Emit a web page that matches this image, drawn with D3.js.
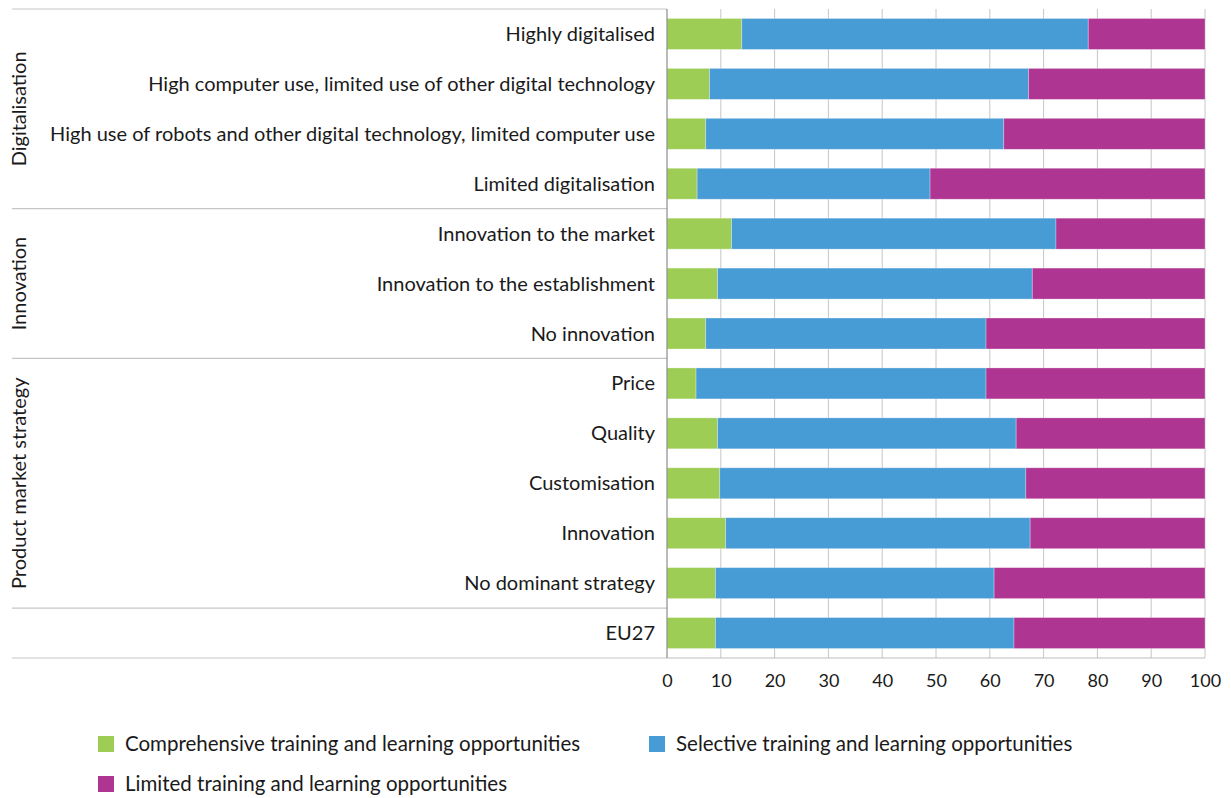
<!DOCTYPE html>
<html><head><meta charset="utf-8">
<script src="https://cdn.jsdelivr.net/npm/d3@7"></script>
<style>
body{margin:0;background:#fff;}
text{font-family:"Source Sans Pro","Lato","Noto Sans",sans-serif;fill:#1a1a1a;}
</style></head>
<body>
<svg id="chart" width="1231" height="798"></svg>
<script>
const categories = ["Highly digitalised","High computer use, limited use of other digital technology","High use of robots and other digital technology, limited computer use","Limited digitalisation","Innovation to the market","Innovation to the establishment","No innovation","Price","Quality","Customisation","Innovation","No dominant strategy","EU27"];
const groupNames = ["Digitalisation","Innovation","Product market strategy",""];
const groupSizes = [4,3,5,1];
const seriesNames = ["Comprehensive training and learning opportunities","Selective training and learning opportunities","Limited training and learning opportunities"];
const comprehensive = [13.9,7.9,7.2,5.6,12.0,9.4,7.2,5.4,9.4,9.8,10.9,9.0,9.0];
const selective     = [64.4,59.3,55.4,43.3,60.3,58.5,52.1,53.9,55.5,56.9,56.6,51.8,55.5];
const limited       = [21.7,32.8,37.4,51.1,27.7,32.1,40.7,40.7,35.1,33.3,32.5,39.2,35.5];
const xTicks = [0,10,20,30,40,50,60,70,80,90,100];
const colors = ["#9dcd55","#489cd6","#ae3592"];

(function(){
const svg = d3.select("#chart");
const L = 667, R = 1205, T = 9, B = 658;
const x = d3.scaleLinear().domain([0,100]).range([L,R]);
const y = d3.scaleBand().domain(categories).range([T,B]).paddingInner(0.38).paddingOuter(0.19);
const yRow = d3.scaleBand().domain(categories).range([T,B]);

// gridlines
svg.append("g").selectAll("line").data(xTicks.slice(1)).join("line")
  .attr("x1",d=>x(d)).attr("x2",d=>x(d)).attr("y1",T).attr("y2",B)
  .attr("stroke","#c6c6c6").attr("stroke-width",1);

// stacked bars
const data = categories.map((c,i)=>({cat:c, v:[comprehensive[i],selective[i],limited[i]]}));
const stack = d3.stack().keys([0,1,2]).value((d,k)=>d.v[k]);
const layers = stack(data);
svg.append("g").selectAll("g").data(layers).join("g")
  .attr("fill",(d,i)=>colors[i])
  .selectAll("rect").data(d=>d).join("rect")
  .attr("x",d=>x(d[0])).attr("width",d=>x(d[1])-x(d[0]))
  .attr("y",d=>y(d.data.cat)).attr("height",y.bandwidth())
  .attr("stroke","#ffffff").attr("stroke-opacity",0.35).attr("stroke-width",0.8);

// group separators
let idx = 0;
const bounds = [0];
groupSizes.forEach(s=>{idx+=s; bounds.push(idx);});
svg.append("g").selectAll("line").data(bounds).join("line")
  .attr("x1",12).attr("x2",L)
  .attr("y1",d=>T + d*yRow.step()).attr("y2",d=>T + d*yRow.step())
  .attr("stroke","#c6c6c6").attr("stroke-width",1.2);

// x axis baseline
svg.append("line").attr("x1",L).attr("x2",R).attr("y1",B).attr("y2",B)
  .attr("stroke","#bdbdbd").attr("stroke-width",1.2);
// y axis line
svg.append("line").attr("x1",L).attr("x2",L).attr("y1",T).attr("y2",B)
  .attr("stroke","#8c8c8c").attr("stroke-width",1.2);

// x axis labels
const xAxis = d3.axisBottom(x).tickValues(xTicks).tickSize(0).tickPadding(0);
const gx = svg.append("g").attr("transform",`translate(0,${B+29})`).call(xAxis);
gx.select(".domain").remove();
gx.selectAll("text").attr("font-size",18).attr("fill","#1a1a1a").attr("dy",0)
  .style("font-family",'"Source Sans Pro","Lato","Noto Sans",sans-serif');

// category labels
svg.append("g").selectAll("text").data(categories).join("text")
  .attr("x",L-12).attr("y",d=>yRow(d)+yRow.step()/2).attr("dy","0.35em")
  .attr("text-anchor","end").attr("font-size",20).text(d=>d);

// group labels
let start = 0;
groupNames.forEach((g,i)=>{
  const cy = T + (start + groupSizes[i]/2)*yRow.step();
  start += groupSizes[i];
  if(!g) return;
  svg.append("text").attr("transform",`translate(26,${cy}) rotate(-90)`)
    .attr("text-anchor","middle").attr("font-size",20).text(g);
});

// legend
const legendPos = [[98,744],[649,744],[98,784]];
seriesNames.forEach((s,i)=>{
  const [lx,ly] = legendPos[i];
  svg.append("rect").attr("x",lx).attr("y",ly-8).attr("width",16).attr("height",16).attr("fill",colors[i]);
  svg.append("text").attr("x",lx+27).attr("y",ly).attr("dy","0.35em").attr("font-size",20.5).text(s);
});
})();
</script>
</body></html>
